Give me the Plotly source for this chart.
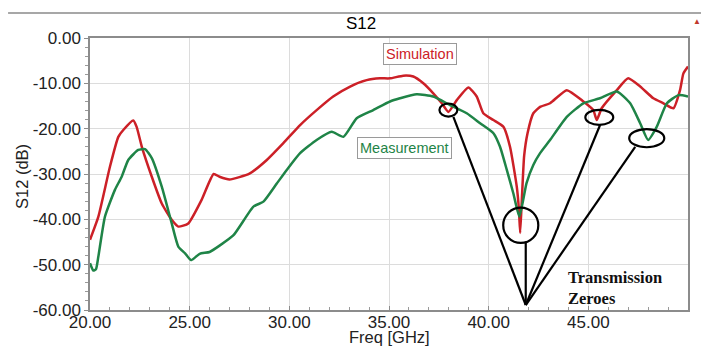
import plotly.graph_objects as go

# ---------------- data ----------------
sim_x = [20, 20.42, 21.0, 21.42, 21.67, 22.17, 22.34, 22.6, 23.1, 23.6, 24.1, 24.43, 24.93,
         25.6, 26.2, 26.5, 27.0, 28.0, 28.87, 29.7, 30.54, 31.37, 32.2, 33.05, 33.88, 34.55,
         35.05, 35.72, 36.22, 36.72, 37.22, 37.65, 37.98, 38.4, 38.98, 39.4, 39.73, 40.24,
         40.74, 41.07, 41.41, 41.52, 41.58, 41.66, 41.78, 41.95, 42.24, 42.58, 43.08, 43.92,
         44.75, 45.25, 45.42, 45.67, 46.43, 47.0, 47.6, 48.26, 48.77, 49.27, 49.6, 49.77, 50]
sim_y = [-44.5, -39.4, -28.4, -21.8, -20.3, -18.2, -19.6, -24.0, -30.6, -36.5, -40.1, -41.6, -40.9,
         -35.7, -30.0, -30.6, -31.2, -29.9, -26.9, -23.2, -19.2, -15.9, -12.9, -10.7, -9.3, -8.9,
         -8.9, -8.3, -8.5, -10.0, -12.2, -14.4, -16.3, -13.7, -10.9, -12.9, -16.6, -18.1,
         -19.6, -24.0, -32.8, -38.0, -43.0, -36.0, -26.0, -21.0, -16.6, -15.2, -14.4, -11.5,
         -14.0, -15.9, -18.1, -15.5, -11.5, -8.9, -10.7, -13.3, -14.4, -15.5, -11.5, -7.8, -6.3]

meas_x = [20, 20.17, 20.3, 20.42, 20.75, 21.25, 21.59, 21.92, 22.42, 22.76, 23.1, 23.6, 24.1,
          24.43, 24.77, 25.07, 25.5, 26.0, 26.5, 27.2, 28.2, 28.7, 29.37, 29.87, 30.54, 31.37,
          32.13, 32.71, 33.38, 34.21, 35.05, 35.55, 36.39, 37.22, 38.06, 38.9, 39.57, 40.24,
          40.57, 40.91, 41.24, 41.54, 41.9, 42.24, 42.58, 43.08, 43.92, 44.75, 45.58, 46.43,
          47.1, 47.6, 48.0, 48.43, 48.94, 49.52, 50]
meas_y = [-49.7, -51.3, -51.0, -48.2, -39.4, -33.5, -30.6, -26.9, -24.7, -24.5, -26.5, -32.8, -40.9,
          -46.0, -47.5, -49.0, -47.6, -47.2, -45.8, -43.5, -37.2, -36.1, -32.1, -29.1, -25.4, -22.5,
          -20.7, -21.8, -17.7, -15.9, -14.0, -13.3, -12.4, -12.9, -14.8, -16.6, -18.8, -21.0,
          -24.0, -29.1, -34.3, -39.4, -32.0, -28.0, -25.4, -22.5, -17.4, -14.4, -13.3, -11.8,
          -14.4, -18.8, -22.5, -19.6, -14.4, -12.6, -12.9]

x_ticks = [20, 25, 30, 35, 40, 45, 50]
x_tick_labels = ["20.00", "25.00", "30.00", "35.00", "40.00", "45.00", "50.00"]
y_ticks = [0, -10, -20, -30, -40, -50, -60]
y_tick_labels = ["0.00", "-10.00", "-20.00", "-30.00", "-40.00", "-50.00", "-60.00"]

# transmission zero markers (ellipse centres / half-sizes) and pointer start points
tz_cx = [37.98, 41.61, 45.55, 47.93]
tz_cy = [-15.9, -41.3, -17.5, -22.1]
tz_rx = [0.45, 0.88, 0.70, 0.88]
tz_ry = [1.45, 3.9, 1.65, 2.0]
ptr_x = [38.23, 41.86, 45.59, 47.35]
ptr_y = [-17.4, -44.9, -19.2, -24.0]
apex_x = 41.86
apex_y = -58.9

RED = "#cc2027"
GREEN = "#1f8447"
FONT = "Liberation Sans, Arial"

fig = go.Figure()
fig.add_trace(go.Scatter(x=sim_x, y=sim_y, mode="lines", name="Simulation",
                         line=dict(color=RED, width=2.5, shape="spline", smoothing=0.5)))
fig.add_trace(go.Scatter(x=meas_x, y=meas_y, mode="lines", name="Measurement",
                         line=dict(color=GREEN, width=2.5, shape="spline", smoothing=0.5)))

shapes = []
for cx, cy, rx, ry in zip(tz_cx, tz_cy, tz_rx, tz_ry):
    shapes.append(dict(type="circle", xref="x", yref="y", x0=cx - rx, x1=cx + rx,
                       y0=cy - ry, y1=cy + ry, line=dict(color="black", width=2.2)))
for px, py in zip(ptr_x, ptr_y):
    shapes.append(dict(type="line", xref="x", yref="y", x0=px, y0=py, x1=apex_x, y1=apex_y,
                       line=dict(color="black", width=2.2)))
# top separator line
shapes.append(dict(type="line", xref="paper", yref="paper", x0=-0.137, x1=1.04,
                   y0=1.092, y1=1.092, line=dict(color="#8a8a8a", width=1.5)))

annotations = [
    dict(text="S12", xref="paper", yref="paper", x=0.453, y=1.055, yanchor="middle",
         showarrow=False, font=dict(family=FONT, size=17, color="black")),
    dict(text="▲", xref="paper", yref="paper", x=1.025, y=1.06, yanchor="middle",
         showarrow=False, font=dict(size=8, color="#c0392b")),
    dict(text="Simulation", xref="x", yref="y", x=36.56, y=-3.5, showarrow=False,
         font=dict(family=FONT, size=14.5, color=RED),
         bgcolor="white", bordercolor="#9a9a9a", borderwidth=1, borderpad=2),
    dict(text="Measurement", xref="x", yref="y", x=35.8, y=-24.2, showarrow=False,
         font=dict(family=FONT, size=14.5, color=GREEN),
         bgcolor="white", bordercolor="#9a9a9a", borderwidth=1, borderpad=2),
    dict(text="<b>Transmission<br>Zeroes</b>", xref="x", yref="y", x=43.9, y=-50.3,
         xanchor="left", yanchor="top", align="left", showarrow=False,
         font=dict(family="Liberation Serif, Times New Roman", size=16.5, color="#111111")),
    # axis titles
    dict(text="Freq [GHz]", xref="paper", yref="paper", x=0.5, y=-0.1,
         xanchor="center", yanchor="middle", showarrow=False,
         font=dict(family=FONT, size=16.5, color="#222222")),
    dict(text="S12 (dB)", xref="paper", yref="paper", x=-0.1137, y=0.489, textangle=-90,
         xanchor="center", yanchor="middle", showarrow=False,
         font=dict(family=FONT, size=16.5, color="#222222")),
]

# page body has an 8px margin, so the figure is 8px smaller than the window
fig.update_layout(
    width=701, height=345,
    margin=dict(l=82, r=21, t=30, b=43, autoexpand=False),
    paper_bgcolor="white", plot_bgcolor="white",
    showlegend=False,
    shapes=shapes, annotations=annotations,
    font=dict(family=FONT, size=17, color="#222222"),
)
fig.update_xaxes(
    automargin=False,
    range=[20, 50], tickvals=x_ticks, ticktext=x_tick_labels,
    showgrid=True, gridcolor="#dcdcdc", gridwidth=1,
    showline=True, linecolor="#8c8c8c", linewidth=1.5, mirror=True,
    ticks="inside", ticklen=4, tickcolor="#8c8c8c",
    minor=dict(dtick=1, ticks="inside", ticklen=3, tickcolor="#9a9a9a", showgrid=False),
    tickfont=dict(size=17, color="#222222"),
    ticklabelstandoff=-4,
    zeroline=False,
)
fig.update_yaxes(
    automargin=False,
    range=[-60, 0], tickvals=y_ticks, ticktext=y_tick_labels,
    showgrid=True, gridcolor="#dcdcdc", gridwidth=1,
    showline=True, linecolor="#8c8c8c", linewidth=1.5, mirror=True,
    ticks="outside", ticklen=4, tickcolor="#8c8c8c",
    minor=dict(dtick=2, ticks="outside", ticklen=3, tickcolor="#9a9a9a", showgrid=False),
    tickfont=dict(size=17, color="#222222"),
    zeroline=False,
)

fig.write_html("out.html")
